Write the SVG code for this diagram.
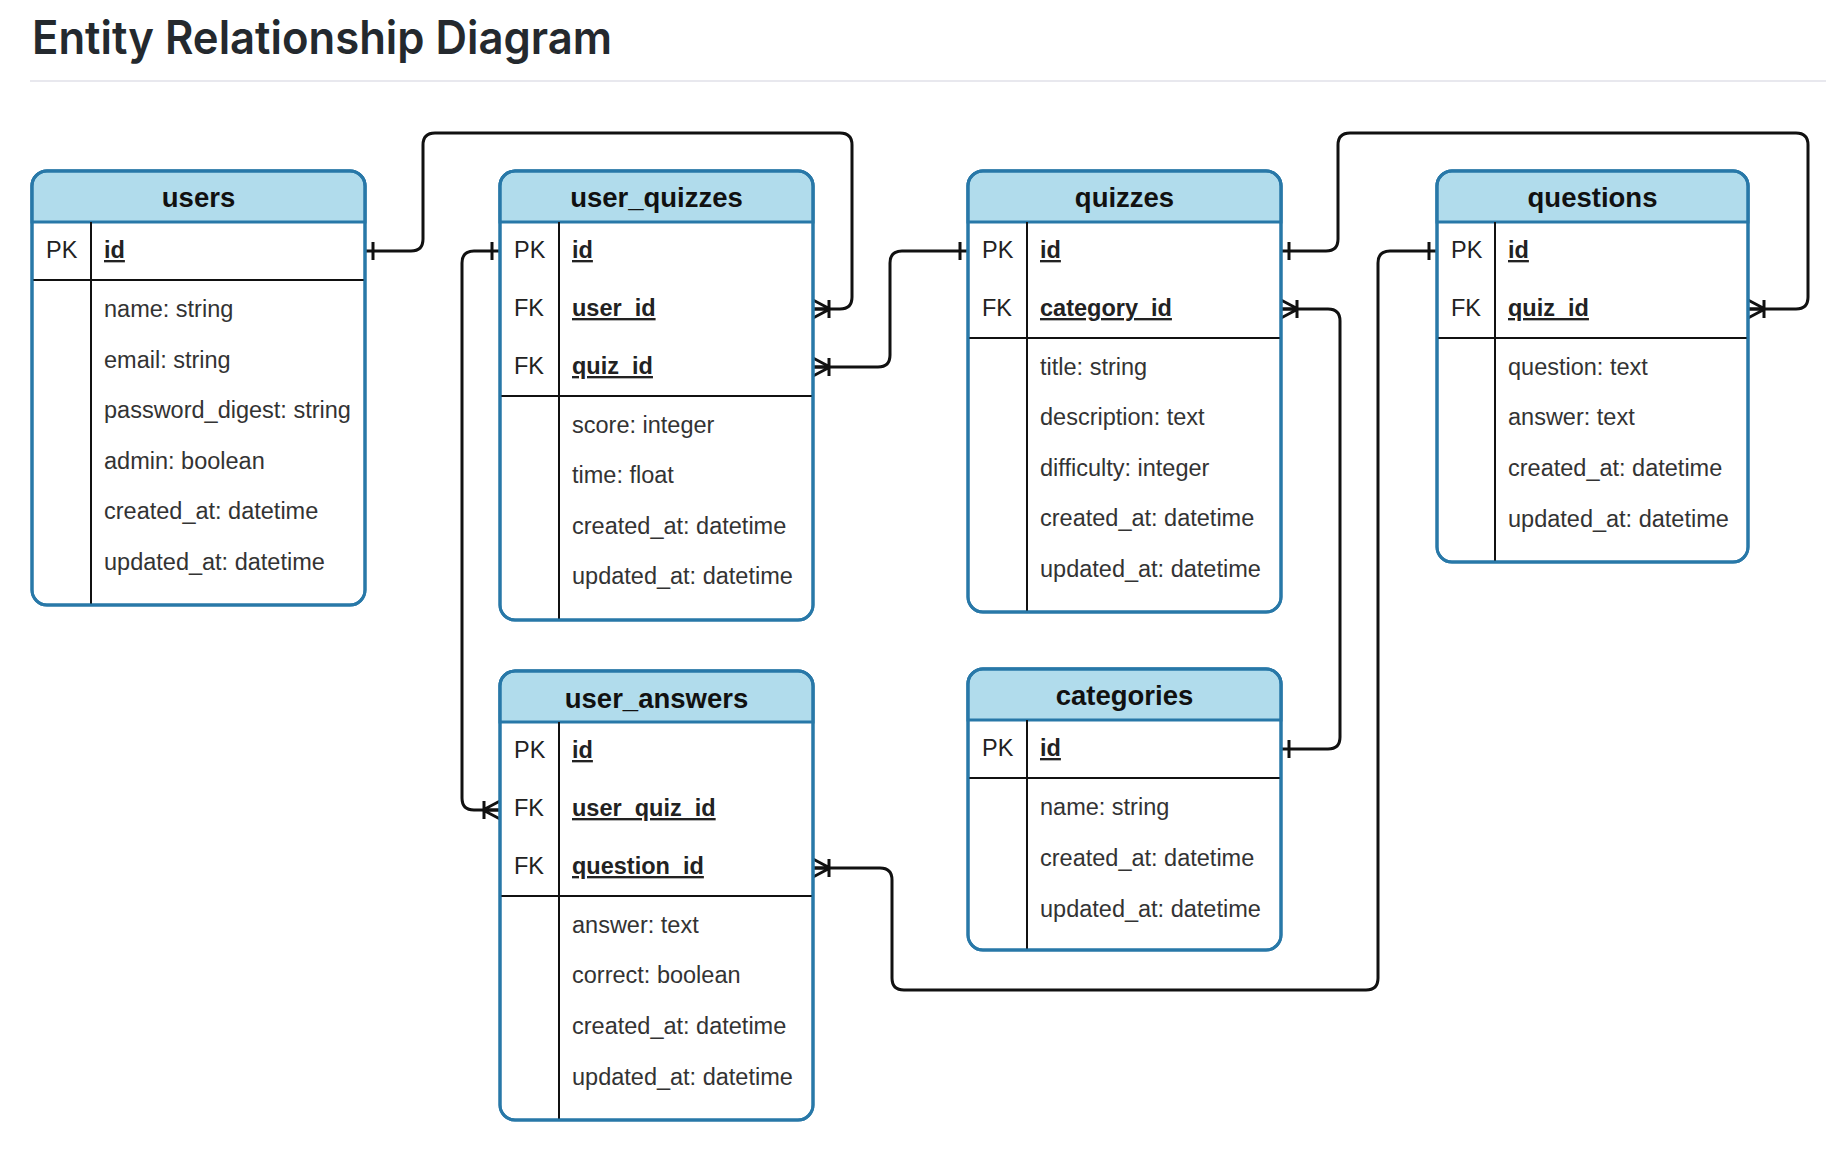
<svg xmlns="http://www.w3.org/2000/svg" width="1840" height="1152" viewBox="0 0 1840 1152">
<style>
.box{fill:#ffffff;stroke:#2878a8;stroke-width:3}
.hdr{fill:#b1dcec;stroke:#2878a8;stroke-width:3}
.sep{stroke:#111;stroke-width:2;fill:none}
.title{font-family:"Liberation Sans",Arial,sans-serif;font-weight:bold;font-size:27.5px;fill:#111;text-anchor:middle}
.k{font-family:"Liberation Sans",Arial,sans-serif;font-size:23.5px;fill:#222}
.kn{font-family:"Liberation Sans",Arial,sans-serif;font-size:23.5px;font-weight:bold;fill:#222;text-decoration:underline}
.a{font-family:"Liberation Sans",Arial,sans-serif;font-size:23.5px;fill:#333}
.conn{fill:none;stroke:#111;stroke-width:3;stroke-linejoin:round}
.mk{stroke:#111;stroke-width:3;fill:none}
</style>
<defs>
<marker id="one" markerUnits="userSpaceOnUse" markerWidth="30" markerHeight="30" refX="0" refY="0" orient="auto" overflow="visible">
<line class="mk" x1="8" y1="-9" x2="8" y2="9"/>
</marker>
<marker id="many" markerUnits="userSpaceOnUse" markerWidth="30" markerHeight="30" refX="0" refY="0" orient="auto" overflow="visible">
<path class="mk" d="M0,-9 L-17,0 M0,0 L-17,0 M0,9 L-17,0 M-16,-9 L-16,9"/>
</marker>
</defs>
<rect width="1840" height="1152" fill="#ffffff"/>
<text x="32" y="54" font-family="Inter,'Liberation Sans',sans-serif" font-weight="600" font-size="46" fill="#24292e" textLength="580" lengthAdjust="spacingAndGlyphs">Entity Relationship Diagram</text>
<line x1="30" y1="81" x2="1826" y2="81" stroke="#e8e8ee" stroke-width="2"/>

<g id="connectors">
<path class="conn" marker-start="url(#one)" marker-end="url(#many)" d="M365,251 H411 Q423,251 423,239 V145 Q423,133 435,133 H840 Q852,133 852,145 V297 Q852,309 840,309 H813"/>
<path class="conn" marker-start="url(#one)" marker-end="url(#many)" d="M968,251 H902 Q890,251 890,263 V355 Q890,367 878,367 H813"/>
<path class="conn" marker-start="url(#one)" marker-end="url(#many)" d="M500,251 H474 Q462,251 462,263 V798 Q462,810 474,810 H500"/>
<path class="conn" marker-start="url(#one)" marker-end="url(#many)" d="M1281,251 H1326 Q1338,251 1338,239 V145 Q1338,133 1350,133 H1796 Q1808,133 1808,145 V297 Q1808,309 1796,309 H1748"/>
<path class="conn" marker-start="url(#one)" marker-end="url(#many)" d="M1281,749 H1328 Q1340,749 1340,737 V321 Q1340,309 1328,309 H1281"/>
<path class="conn" marker-start="url(#one)" marker-end="url(#many)" d="M1437,251 H1390 Q1378,251 1378,263 V978 Q1378,990 1366,990 H904 Q892,990 892,978 V880 Q892,868 880,868 H813"/>
</g>

<g id="users">
<rect class="box" x="32" y="171" width="333" height="434" rx="15"/>
<path class="hdr" d="M32,222 V186 A15,15 0 0 1 47,171 H350 A15,15 0 0 1 365,186 V222 Z"/>
<line class="sep" x1="91" y1="222" x2="91" y2="604"/>
<line class="sep" x1="32" y1="280" x2="365" y2="280"/>
<text class="title" x="198.5" y="207">users</text>
<text class="k" x="46" y="258">PK</text>
<text class="kn" x="104" y="258">id</text>
<text class="a" x="104" y="317">name: string</text>
<text class="a" x="104" y="368">email: string</text>
<text class="a" x="104" y="418">password_digest: string</text>
<text class="a" x="104" y="469">admin: boolean</text>
<text class="a" x="104" y="519">created_at: datetime</text>
<text class="a" x="104" y="570">updated_at: datetime</text>
<rect x="32" y="171" width="333" height="434" rx="15" fill="none" stroke="#2878a8" stroke-width="3"/>
</g>

<g id="user_quizzes">
<rect class="box" x="500" y="171" width="313" height="449" rx="15"/>
<path class="hdr" d="M500,222 V186 A15,15 0 0 1 515,171 H798 A15,15 0 0 1 813,186 V222 Z"/>
<line class="sep" x1="559" y1="222" x2="559" y2="619"/>
<line class="sep" x1="500" y1="396" x2="813" y2="396"/>
<text class="title" x="656.5" y="207">user_quizzes</text>
<text class="k" x="514" y="258">PK</text>
<text class="kn" x="572" y="258">id</text>
<text class="k" x="514" y="316">FK</text>
<text class="kn" x="572" y="316">user_id</text>
<text class="k" x="514" y="374">FK</text>
<text class="kn" x="572" y="374">quiz_id</text>
<text class="a" x="572" y="433">score: integer</text>
<text class="a" x="572" y="483">time: float</text>
<text class="a" x="572" y="534">created_at: datetime</text>
<text class="a" x="572" y="584">updated_at: datetime</text>
<rect x="500" y="171" width="313" height="449" rx="15" fill="none" stroke="#2878a8" stroke-width="3"/>
</g>

<g id="quizzes">
<rect class="box" x="968" y="171" width="313" height="441" rx="15"/>
<path class="hdr" d="M968,222 V186 A15,15 0 0 1 983,171 H1266 A15,15 0 0 1 1281,186 V222 Z"/>
<line class="sep" x1="1027" y1="222" x2="1027" y2="611"/>
<line class="sep" x1="968" y1="338" x2="1281" y2="338"/>
<text class="title" x="1124.5" y="207">quizzes</text>
<text class="k" x="982" y="258">PK</text>
<text class="kn" x="1040" y="258">id</text>
<text class="k" x="982" y="316">FK</text>
<text class="kn" x="1040" y="316">category_id</text>
<text class="a" x="1040" y="375">title: string</text>
<text class="a" x="1040" y="425">description: text</text>
<text class="a" x="1040" y="476">difficulty: integer</text>
<text class="a" x="1040" y="526">created_at: datetime</text>
<text class="a" x="1040" y="577">updated_at: datetime</text>
<rect x="968" y="171" width="313" height="441" rx="15" fill="none" stroke="#2878a8" stroke-width="3"/>
</g>

<g id="questions">
<rect class="box" x="1437" y="171" width="311" height="391" rx="15"/>
<path class="hdr" d="M1437,222 V186 A15,15 0 0 1 1452,171 H1733 A15,15 0 0 1 1748,186 V222 Z"/>
<line class="sep" x1="1495" y1="222" x2="1495" y2="561"/>
<line class="sep" x1="1437" y1="338" x2="1748" y2="338"/>
<text class="title" x="1592.5" y="207">questions</text>
<text class="k" x="1451" y="258">PK</text>
<text class="kn" x="1508" y="258">id</text>
<text class="k" x="1451" y="316">FK</text>
<text class="kn" x="1508" y="316">quiz_id</text>
<text class="a" x="1508" y="375">question: text</text>
<text class="a" x="1508" y="425">answer: text</text>
<text class="a" x="1508" y="476">created_at: datetime</text>
<text class="a" x="1508" y="527">updated_at: datetime</text>
<rect x="1437" y="171" width="311" height="391" rx="15" fill="none" stroke="#2878a8" stroke-width="3"/>
</g>

<g id="categories">
<rect class="box" x="968" y="669" width="313" height="281" rx="15"/>
<path class="hdr" d="M968,720 V684 A15,15 0 0 1 983,669 H1266 A15,15 0 0 1 1281,684 V720 Z"/>
<line class="sep" x1="1027" y1="720" x2="1027" y2="949"/>
<line class="sep" x1="968" y1="778" x2="1281" y2="778"/>
<text class="title" x="1124.5" y="705">categories</text>
<text class="k" x="982" y="756">PK</text>
<text class="kn" x="1040" y="756">id</text>
<text class="a" x="1040" y="815">name: string</text>
<text class="a" x="1040" y="866">created_at: datetime</text>
<text class="a" x="1040" y="917">updated_at: datetime</text>
<rect x="968" y="669" width="313" height="281" rx="15" fill="none" stroke="#2878a8" stroke-width="3"/>
</g>

<g id="user_answers">
<rect class="box" x="500" y="671" width="313" height="449" rx="15"/>
<path class="hdr" d="M500,722 V686 A15,15 0 0 1 515,671 H798 A15,15 0 0 1 813,686 V722 Z"/>
<line class="sep" x1="559" y1="722" x2="559" y2="1119"/>
<line class="sep" x1="500" y1="896" x2="813" y2="896"/>
<text class="title" x="656.5" y="708">user_answers</text>
<text class="k" x="514" y="758">PK</text>
<text class="kn" x="572" y="758">id</text>
<text class="k" x="514" y="816">FK</text>
<text class="kn" x="572" y="816">user_quiz_id</text>
<text class="k" x="514" y="874">FK</text>
<text class="kn" x="572" y="874">question_id</text>
<text class="a" x="572" y="933">answer: text</text>
<text class="a" x="572" y="983">correct: boolean</text>
<text class="a" x="572" y="1034">created_at: datetime</text>
<text class="a" x="572" y="1085">updated_at: datetime</text>
<rect x="500" y="671" width="313" height="449" rx="15" fill="none" stroke="#2878a8" stroke-width="3"/>
</g>
</svg>
